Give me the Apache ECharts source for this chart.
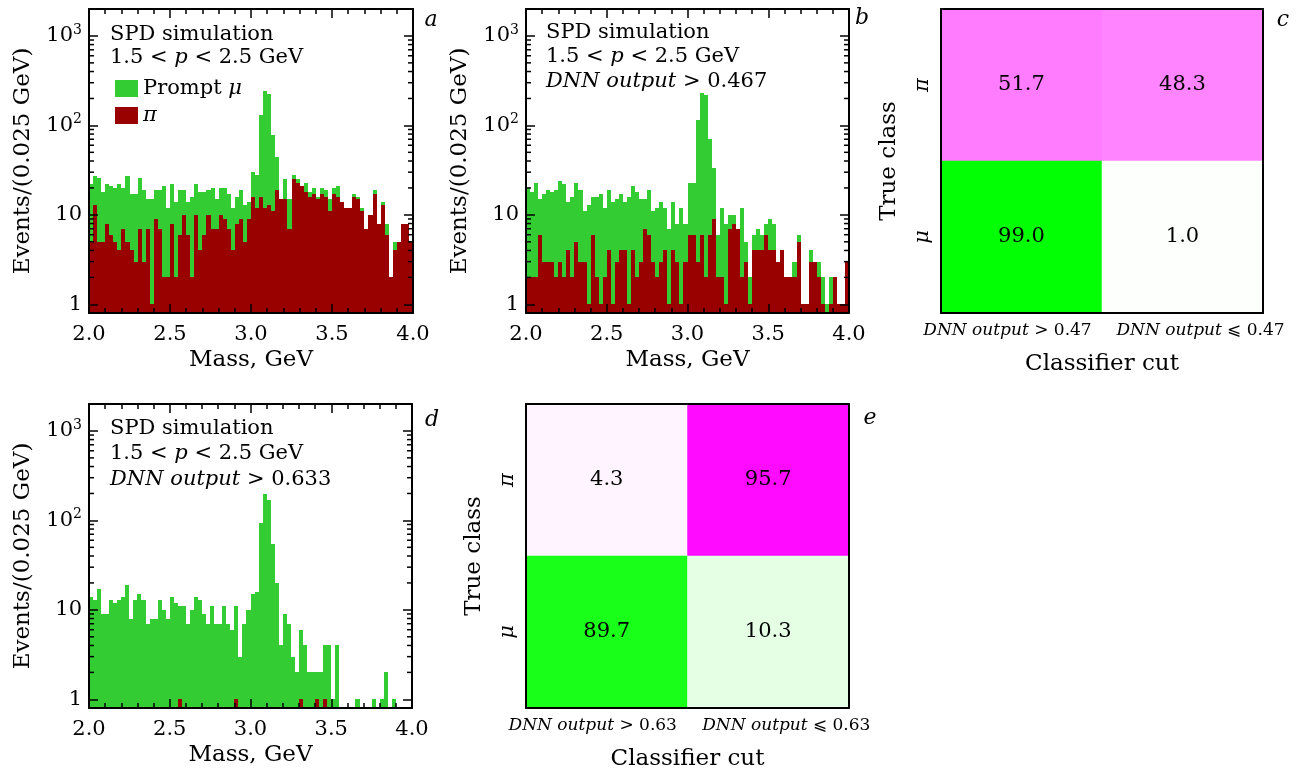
<!DOCTYPE html>
<html>
<head>
<meta charset="utf-8">
<title>SPD simulation</title>
<script src="https://cdn.jsdelivr.net/npm/echarts@6/dist/echarts.min.js"></script>
<style>
html, body { margin: 0; padding: 0; background: #fff; }
#main { width: 1315px; height: 776px; }
</style>
</head>
<body>
<div id="main"></div>
<script>
/*----- data S -----*/
var massMin = 2.0;
var massMax = 4.0;
var binWidth = 0.025;
var countMin = 0.8;
var countMax = 2000;
var logMinor = [2, 3, 4, 5, 6, 7, 8, 9, 20, 30, 40, 50, 60, 70, 80, 90, 200, 300, 400, 500, 600, 700, 800, 900];

// panel a: no cut
var muA = [22,27,26,18,22,21,20,22,20,27, 17,17,26,19,15,15,19,19,21,12, 22,14,19,19,14,16,22,18,18,19, 20,15,20,20,17,12,16,19,13,14,
           30,28,130,245,222,79,44,15,25,15, 28,25,21,23,18,20,16,20,19,15, 20,21,14,12,12,17,16,12,7,10, 19,8,14,8,2,5,5,8,8,5];
var piA = [5,13,5,5,8,6,5,4,7,5, 4,3,7,3,7,1,9,7,2,2, 8,2,6,10,6,2,10,4,6,10, 7,7,10,9,7,4,8,9,5,9,
           16,12,16,12,13,11,19,15,15,7, 25,23,21,18,16,17,15,17,16,11, 17,16,14,12,12,16,15,11,7,10, 17,8,13,6,2,4,5,8,8,5];
// panel b: DNN output > 0.467
var muB = [20,18,23,15,17,19,18,19,24,22, 14,16,23,19,11,13,16,16,17,12, 19,14,15,17,14,16,21,18,15,15, 19,11,12,14,12,7,14,8,12,8,
           23,23,116,230,216,71,33,6,12,8, 10,10,7,12,5,2,6,7,6,8, 9,8,3,4,2,2,3,6,1,1, 4,3,3,2,1,2,2,1,1,3];
var piB = [2,2,2,6,3,3,3,2,3,2, 4,2,5,3,3,1,6,2,1,2, 4,1,3,4,4,1,4,2,3,7, 6,3,2,3,4,1,4,3,1,3,
           6,6,3,6,2,6,9,2,2,1, 7,8,7,2,3,1,4,4,4,6, 4,4,3,4,2,2,2,5,1,1, 3,3,2,1,0,1,2,1,1,3];
// panel d: DNN output > 0.633
var muD = [14,13,17,9,9,13,12,13,14,19, 8,13,15,13,7,8,8,13,10,8, 14,12,11,11,7,10,14,13,9,7, 11,7,7,11,7,6,11,3,7,10,
           15,16,93,197,169,54,20,4,9,7, 3,2,6,4,2,2,2,2,4,4, 1,4,0,0,0,0,1,0,0,0, 1,0,1,2,0,1,0,0,0,0];
var piD = [0,0,0,0,0,0,0,0,0,0, 0,0,0,0,0,0,0,0,0,0, 0,0,1,0,0,0,0,0,0,0, 0,0,0,0,0,0,1,0,0,0,
           0,0,0,0,0,0,0,0,0,0, 0,0,1,0,0,0,1,0,1,0, 0,0,0,0,0,0,0,0,0,0, 0,0,0,0,0,0,0,0,0,0];

// confusion matrices (percent), columns: passes cut / fails cut
var classRows = ['μ', 'π'];
var cutsC = ['DNN output > 0.47', 'DNN output ⩽ 0.47'];
var cutsE = ['DNN output > 0.63', 'DNN output ⩽ 0.63'];
var piC = [51.7, 48.3];
var muC = [99.0, 1.0];
var piE = [4.3, 95.7];
var muE = [89.7, 10.3];
/*----- data E -----*/

var serif = 'DejaVu Serif';
var green = '#33cc33';
var darkRed = '#990000';

function binData(counts){
	var list = [];
	for(var i = 0; i < counts.length; i++){
		if(counts[i] > 0){
			list.push([massMin + i * binWidth, massMin + (i + 1) * binWidth, counts[i]]);
		}
	}
	return list;
}

// one bin = one rect, snapped to whole pixels so neighbours join without seams
function renderBin(params, api){
	var lo = api.coord([api.value(0), api.value(2)]);
	var hi = api.coord([api.value(1), api.value(2)]);
	var cs = params.coordSys;
	var bottom = Math.round(cs.y + cs.height);
	var x0 = Math.round(lo[0]);
	var x1 = Math.round(hi[0]);
	var top = Math.round(lo[1]);
	return {
		type: 'rect',
		shape: { x: x0, y: top, width: x1 - x0, height: bottom - top },
		style: { fill: api.visual('color') }
	};
}

function renderMinor(params, api){
	var y = api.coord([api.value(0), api.value(1)])[1];
	var cs = params.coordSys;
	var st = { stroke: '#000', lineWidth: 1.5 };
	return {
		type: 'group',
		children: [
			{ type: 'line', shape: { x1: cs.x, y1: y, x2: cs.x + 5, y2: y }, style: st },
			{ type: 'line', shape: { x1: cs.x + cs.width - 5, y1: y, x2: cs.x + cs.width, y2: y }, style: st }
		]
	};
}

function powerLabel(v){
	var p = Math.log10(v);
	var r = Math.round(p);
	if(Math.abs(p - r) > 1e-6){
		return '';
	}
	if(r == 0) return '1';
	if(r == 1) return '10';
	return '10{s|' + r + '}';
}

var lineBlack = { color: '#000', width: 2 };
var tickBlack = { color: '#000', width: 1.5 };

function massAxis(grid, pos){
	return {
		type: 'value', gridIndex: grid, position: pos,
		min: massMin, max: massMax, interval: 0.5,
		name: pos == 'bottom' ? 'Mass, GeV' : '',
		nameLocation: 'middle', nameGap: 36,
		nameTextStyle: { fontFamily: serif, fontSize: 23, color: '#000' },
		axisLine: { onZero: false, lineStyle: lineBlack },
		axisTick: { inside: true, length: 9, lineStyle: tickBlack },
		minorTick: { show: true, splitNumber: 5, length: 5, lineStyle: tickBlack },
		axisLabel: {
			show: pos == 'bottom', margin: 11, showMinLabel: true, showMaxLabel: true,
			fontFamily: serif, fontSize: 21, color: '#000',
			formatter: function(v){ return v.toFixed(1); }
		},
		splitLine: { show: false },
		minorSplitLine: { show: false },
		z: 10
	};
}

function countAxis(grid, pos){
	return {
		type: 'log', logBase: 10, gridIndex: grid, position: pos,
		min: countMin, max: countMax,
		name: pos == 'left' ? 'Events/(0.025 GeV)' : '',
		nameLocation: 'middle', nameGap: 54,
		nameTextStyle: { fontFamily: serif, fontSize: 23, color: '#000' },
		axisLine: { onZero: false, lineStyle: lineBlack },
		axisTick: { inside: true, length: 9, lineStyle: tickBlack },
		axisLabel: {
			show: pos == 'left', margin: 7,
			fontFamily: serif, fontSize: 21, color: '#000',
			formatter: powerLabel,
			rich: {
				s: { fontFamily: serif, fontSize: 14, color: '#000', verticalAlign: 'top', lineHeight: 26 }
			}
		},
		splitLine: { show: false },
		z: 10
	};
}

function cutAxis(grid, pos, cats){
	return {
		type: 'category', gridIndex: grid, position: pos, data: cats,
		name: pos == 'bottom' ? 'Classifier cut' : '',
		nameLocation: 'middle', nameGap: 40,
		nameTextStyle: { fontFamily: serif, fontSize: 23, color: '#000' },
		axisLine: { lineStyle: lineBlack },
		axisTick: { inside: true, length: 7, lineStyle: tickBlack },
		axisLabel: {
			show: pos == 'bottom', interval: 0, margin: 9,
			formatter: function(v, i){
				var rest = v.replace('DNN output', '');
				return i == 0 ? '{i|DNN output}{l|' + rest + '}' : '{j|DNN output}{a|' + rest + '}';
			},
			rich: {
				i: { fontFamily: serif, fontSize: 17, fontStyle: 'italic', color: '#000' },
				j: { fontFamily: serif, fontSize: 17, fontStyle: 'italic', color: '#000', padding: [0, 0, 0, 36] },
				a: { fontFamily: serif, fontSize: 17, color: '#000' },
				l: { fontFamily: serif, fontSize: 17, color: '#000', padding: [0, 28, 0, 0] }
			}
		},
		splitLine: { show: false },
		z: 10
	};
}

function classAxis(grid, pos){
	return {
		type: 'category', gridIndex: grid, position: pos, data: classRows,
		name: pos == 'left' ? 'True class' : '',
		nameLocation: 'middle', nameGap: 40,
		nameTextStyle: { fontFamily: serif, fontSize: 23, color: '#000' },
		axisLine: { lineStyle: lineBlack },
		axisTick: { inside: true, length: 7, lineStyle: tickBlack },
		axisLabel: {
			show: pos == 'left', rotate: 90, margin: 8,
			fontFamily: serif, fontSize: 21, fontStyle: 'italic', color: '#000'
		},
		splitLine: { show: false },
		z: 10
	};
}

function histSeries(name, counts, grid, color){
	return {
		name: name, type: 'custom',
		xAxisIndex: grid * 2, yAxisIndex: grid * 2,
		renderItem: renderBin,
		itemStyle: { color: color },
		encode: { x: [0, 1], y: 2 },
		data: binData(counts),
		silent: true, z: 2
	};
}

function minorSeries(grid){
	var list = [];
	for(var i = 0; i < logMinor.length; i++){
		list.push([massMin, logMinor[i]]);
	}
	return {
		type: 'custom', xAxisIndex: grid * 2, yAxisIndex: grid * 2,
		renderItem: renderMinor, encode: { x: 0, y: 1 },
		data: list, silent: true, z: 11
	};
}

function rowSeries(grid, row, values){
	var list = [];
	for(var i = 0; i < values.length; i++){
		list.push([i, row, values[i]]);
	}
	return {
		type: 'heatmap', xAxisIndex: grid * 2, yAxisIndex: grid * 2,
		data: list, silent: true,
		label: {
			show: true, fontFamily: serif, fontSize: 21, color: '#000',
			formatter: function(p){ return p.value[2].toFixed(1); }
		},
		itemStyle: { borderWidth: 0 },
		emphasis: { disabled: true }
	};
}

function plainText(x, y, parts){
	return {
		type: 'text', x: x, y: y, silent: true,
		style: {
			text: parts, fontFamily: serif, fontSize: 21, fill: '#000',
			verticalAlign: 'middle',
			rich: {
				i: { fontFamily: serif, fontSize: 21, fontStyle: 'italic', fill: '#000' }
			}
		}
	};
}

function letter(x, y, t){
	return {
		type: 'text', x: x, y: y, silent: true,
		style: { text: t, fontFamily: serif, fontSize: 22, fontStyle: 'italic', fill: '#000', align: 'center', verticalAlign: 'middle' }
	};
}

var option = {
	animation: false,
	backgroundColor: '#fff',
	grid: [
		{ left: 89, top: 9, width: 324, height: 304 },
		{ left: 526, top: 9, width: 323, height: 304 },
		{ left: 89, top: 404, width: 323, height: 304 },
		{ left: 941, top: 9, width: 322, height: 304 },
		{ left: 526, top: 404, width: 323, height: 304 }
	],
	xAxis: [
		massAxis(0, 'bottom'), massAxis(0, 'top'),
		massAxis(1, 'bottom'), massAxis(1, 'top'),
		massAxis(2, 'bottom'), massAxis(2, 'top'),
		cutAxis(3, 'bottom', cutsC), cutAxis(3, 'top', cutsC),
		cutAxis(4, 'bottom', cutsE), cutAxis(4, 'top', cutsE)
	],
	yAxis: [
		countAxis(0, 'left'), countAxis(0, 'right'),
		countAxis(1, 'left'), countAxis(1, 'right'),
		countAxis(2, 'left'), countAxis(2, 'right'),
		classAxis(3, 'left'), classAxis(3, 'right'),
		classAxis(4, 'left'), classAxis(4, 'right')
	],
	visualMap: [
		{ show: false, type: 'continuous', min: 0, max: 100, dimension: 2, seriesIndex: [9, 11],
		  inRange: { color: ['#ffffff', '#ff00ff'] } },
		{ show: false, type: 'continuous', min: 0, max: 100, dimension: 2, seriesIndex: [10, 12],
		  inRange: { color: ['#ffffff', '#00ff00'] } }
	],
	legend: {
		data: ['Prompt μ', 'π'],
		left: 110, top: 73, orient: 'vertical', icon: 'rect',
		itemWidth: 23, itemHeight: 17, itemGap: 6, selectedMode: false,
		textStyle: {
			fontFamily: serif, fontSize: 21, color: '#000',
			rich: { i: { fontFamily: serif, fontSize: 21, fontStyle: 'italic', color: '#000' } }
		},
		formatter: function(name){
			return name == 'π' ? '{i|π}' : 'Prompt {i|μ}';
		}
	},
	graphic: [
		plainText(110, 35, 'SPD simulation'),
		plainText(110, 58, '1.5 < {i|p} < 2.5 GeV'),
		plainText(546, 33, 'SPD simulation'),
		plainText(546, 57, '1.5 < {i|p} < 2.5 GeV'),
		plainText(546, 82, '{i|DNN output} > 0.467'),
		plainText(110, 429, 'SPD simulation'),
		plainText(110, 454, '1.5 < {i|p} < 2.5 GeV'),
		plainText(110, 480, '{i|DNN output} > 0.633'),
		letter(431, 20, 'a'),
		letter(862, 18, 'b'),
		letter(1283, 20, 'c'),
		letter(432, 420, 'd'),
		letter(870, 418, 'e')
	],
	series: [
		histSeries('Prompt μ', muA, 0, green),
		histSeries('π', piA, 0, darkRed),
		minorSeries(0),
		histSeries('Prompt μ', muB, 1, green),
		histSeries('π', piB, 1, darkRed),
		minorSeries(1),
		histSeries('Prompt μ', muD, 2, green),
		histSeries('π', piD, 2, darkRed),
		minorSeries(2),
		rowSeries(3, 1, piC),
		rowSeries(3, 0, muC),
		rowSeries(4, 1, piE),
		rowSeries(4, 0, muE)
	]
};

echarts.init(document.getElementById('main')).setOption(option, true);
</script>
</body>
</html>
